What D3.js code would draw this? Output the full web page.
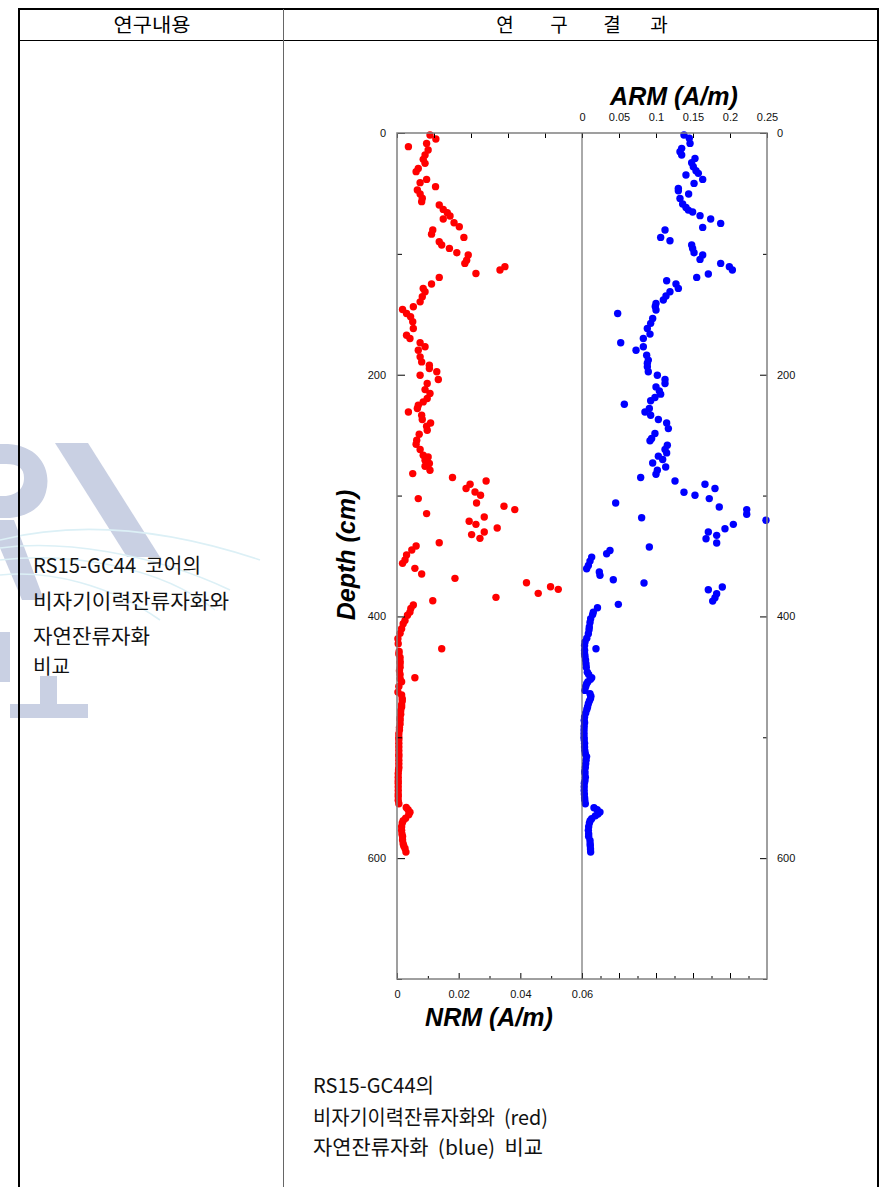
<!DOCTYPE html>
<html><head><meta charset="utf-8">
<script src="https://cdn.jsdelivr.net/npm/d3@7"></script>
<style>body{margin:0;background:#fff}svg{display:block}text{white-space:pre}</style>
</head><body><svg id="c" width="881" height="1187"></svg>
<script>
// ---------- DATA ----------
const nrmPoints = [[1.7,.0107],[5,.0126],[8.6,.0096],[11.3,.0037],[14.1,.0101],[18.2,.0091],[21.8,.0085],[25.1,.0091],[29.3,.0069],[32,.0062],[38.4,.0096],[41.1,.0075],[44.4,.0125],[47.2,.0066],[50.5,.0075],[54,.0082],[56.8,.008],[59.6,.0137],[63.2,.015],[66,.0163],[68.7,.0172],[71.2,.015],[74.3,.0185],[77.6,.0202],[80.3,.0116],[83.7,.0112],[86.4,.0217],[90,.0137],[92.7,.0145],[95.5,.017],[99.1,.0194],[101,.0231],[105.2,.0226],[107.9,.022],[110.6,.035],[113.4,.0334],[116.2,.0256],[119.5,.0137],[125,.0112],[128.6,.0085],[131.4,.0091],[135.5,.0082],[139.7,.0075],[143.8,.0053],[146,.0018],[149.3,.0031],[152.1,.0044],[156.2,.0051],[161.7,.0053],[167.3,.0031],[170,.0042],[173.6,.0075],[176.9,.0091],[179.7,.0069],[185.2,.0075],[189.4,.008],[192.1,.0105],[194.9,.0105],[197.6,.0129],[200.4,.0075],[204,.0134],[207.3,.0098],[212.3,.0091],[215.6,.0107],[219.7,.0098],[222.5,.0085],[225.2,.0069],[228,.0066],[230.8,.0037],[233.5,.008],[237.1,.0082],[239.9,.0109],[242.6,.0096],[245.9,.0098],[249.3,.0072],[254.2,.0064],[257.5,.0062],[261.9,.0075],[266.6,.0085],[268,.0101],[270.8,.0091],[273.5,.0105],[275.7,.0091],[279.1,.0107],[281.8,.0051],[285.1,.018],[287.9,.0289],[290.6,.0237],[294.2,.0224],[297,.0253],[299.7,.0271],[302.5,.0069],[306.1,.0258],[308.8,.0347],[311.6,.0382],[314.9,.0096],[317.7,.0283],[321.3,.0234],[323.8,.0256],[326.8,.0325],[330.1,.0283],[332.3,.0242],[335.4,.0269],[339,.0137],[341.7,.0062],[345,.0048],[349.2,.0031],[353.3,.0026],[356.1,.0018],[360.2,.0058],[364.9,.008],[368.5,.0188],[372.1,.042],[375.4,.0498],[377.6,.0523],[380.9,.0458],[384.2,.0321],[387,.0116],[390.5,.0053],[393.3,.0045],[396.4,.0042],[399,.0034],[403.3,.0026],[406,.002],[410.2,.0015],[414,.001],[418.5,.0003],[422.6,.0004],[426.8,.0145],[429,.0007],[431,.0006],[434,.001],[437,.001],[439,.001],[442,.001],[445,.0008],[448,.001],[450.8,.0058],[451.5,.001],[454,.0015],[458,.0006],[462.6,.0003],[465,.0015],[468,.0017],[470,.0017],[473,.0015],[475,.0015],[478,.0012],[481,.0012],[484,.001],[486,.001],[489,.001],[492,.0008],[494,.0008],[497,.0006],[500,.0006],[502,.0006],[505,.0006],[508,.0006],[511,.0006],[514,.0006],[516,.0006],[519,.0006],[522,.0006],[525,.0006],[527,.0005],[530,.0004],[533,.0004],[536,.0004],[538,.0004],[541,.0004],[544,.0004],[547,.0004],[549,.0004],[552,.0004],[555,.0006],[558,.003],[560,.0036],[562,.0042],[564,.0038],[567,.0028],[569,.002],[571,.0017],[574,.0015],[577,.0015],[580,.0016],[582,.0018],[585,.0018],[588,.002],[590,.0022],[592,.0026],[595,.0029]];

const armPoints = [[1.7,.1378],[4.4,.145],[8.6,.146],[12.7,.1347],[15.5,.1324],[18.2,.1347],[21,.1527],[24.6,.1482],[27.9,.1504],[31.2,.154],[33.4,.1572],[34.8,.1405],[38.4,.1631],[41.7,.1514],[45.8,.1302],[47.8,.1302],[50.5,.1441],[54.1,.1324],[58.8,.136],[61.6,.1405],[63.8,.1437],[65.4,.1495],[68.4,.1595],[71.2,.1739],[74.8,.1874],[78.1,.1631],[80.3,.1122],[86.4,.1063],[89.2,.1189],[92.7,.1482],[95.5,.1495],[99.1,.1514],[101,.1631],[104.6,.1595],[107.9,.1874],[110.6,.1991],[113.4,.2032],[116.7,.1707],[119.5,.155],[122.2,.1144],[125,.127],[128.6,.1302],[131.4,.1189],[134.9,.1135],[138.2,.1099],[141,.1],[143.5,.099],[146.5,.1],[149.3,.0482],[153.4,.0955],[157.5,.0928],[161.7,.0883],[166.4,.0919],[170,.0829],[173.6,.0523],[176.9,.0829],[179.7,.073],[183.8,.0874],[187.9,.0896],[190.5,.0883],[193.5,.0883],[197.6,.0896],[200.4,.1018],[204,.1122],[207.3,.1122],[210.1,.1],[213.4,.1045],[216.1,.1063],[218.9,.0986],[221.6,.0928],[224.4,.0572],[228,.091],[230.8,.0851],[233.5,.0928],[237.1,.1032],[239.9,.1144],[244.6,.1167],[248.7,.0986],[252.8,.0941],[254.7,.0919],[258.3,.1153],[261.9,.1122],[264.7,.1144],[267.4,.1032],[270.2,.109],[273,.0955],[276.3,.1131],[279.1,.1018],[282.4,.1],[285.1,.0793],[287.9,.1257],[290.6,.1662],[294.2,.1797],[297.3,.1378],[299.7,.1527],[302.5,.172],[306.1,.0455],[309.4,.1855],[311.6,.2226],[315.5,.2226],[318.3,.0806],[320.4,.2486],[323.8,.2045],[327.4,.1932],[330.1,.1707],[332.9,.182],[335.7,.1676],[339.2,.182],[342.6,.091],[345.4,.0378],[348.1,.0333],[350.9,.0131],[354.2,.0108],[357.8,.0086],[360.5,.0063],[363.3,.0234],[366,.0243],[369.6,.0423],[372.4,.0838],[375.7,.1896],[377.9,.1707],[381.2,.182],[384.5,.1797],[387.3,.1766],[390,.0491],[392.8,.0209],[396.4,.0153],[398.5,.0144],[401.9,.0117],[405,.0108],[408.8,.0099],[411,.0095],[414.3,.0086],[418,.0065],[421.2,.0041],[424,.0035],[426.8,.0189],[428,.0035],[430.9,.0035],[433,.004],[436,.0048],[439.2,.0054],[442,.0058],[446.1,.0072],[448,.009],[450.8,.0131],[452,.0115],[454,.008],[455.7,.0063],[458,.005],[461.2,.004],[464,.0108],[466,.012],[468,.0115],[470,.01],[472.2,.0086],[475,.0075],[477,.0065],[480,.005],[483.2,.0035],[486,.003],[488,.0035],[491,.003],[494,.0028],[497,.0028],[500,.0028],[502,.003],[505,.0035],[508,.0035],[511,.0038],[513.6,.0045],[516,.0062],[519,.0055],[522,.005],[525,.0045],[528,.0038],[530,.004],[533,.0045],[536,.004],[538,.0032],[541,.003],[544,.003],[547,.0032],[550,.0035],[552,.0038],[555,.0045],[558.3,.0162],[560,.0205],[561.9,.0243],[563.5,.0215],[565,.018],[567.4,.0131],[569,.011],[571,.01],[574,.009],[577,.0086],[580,.009],[582,.009],[585.3,.0108],[588,.011],[590,.0112],[592.5,.0115],[594.9,.0117]];

const depthMajor = [0,200,400,600];
const depthMinor = [100,300,500,700];
const nrmMajor = [0,0.02,0.04,0.06];
const nrmMinor = [0.01,0.03,0.05];
const nrmTickLabels = ["0","0.02","0.04","0.06"];
const armMajor = [0,0.05,0.1,0.15,0.2,0.25];
const armMinor = [0.025,0.075,0.125,0.175,0.225];
const armTickLabels = ["0","0.05","0.1","0.15","0.2","0.25"];
const topTickValues = [-0.25,-0.2,-0.15,-0.1,-0.05,0,0.05,0.1,0.15,0.2,0.25];

const headerLeft = "연구내용";
const headerRight = ["연","구","결","과"];
const leftLines = ["RS15-GC44  코어의","비자기이력잔류자화와","자연잔류자화","비교"];
const captionLines = ["RS15-GC44의","비자기이력잔류자화와  (red)","자연잔류자화  (blue)  비교"];

// ---------- LAYOUT ----------
const leftLayout = {x:33, ys:[573,609,644,674], widths:[168,196,117,37], size:20};
const capLayout = {x:313, ys:[1093,1125,1155], widths:[121,235,230], size:20.5};

// ---------- DRAW ----------
const svg = d3.select("#c");
svg.append("rect").attr("width",881).attr("height",1187).attr("fill","#fff");

// watermark
const wm = svg.append("g").attr("fill","#c9d0e3").attr("stroke","none");
wm.append("path").attr("d","M0,444 L8,444 C40,446 52,470 46,492 C42,508 28,516 10,518 L0,518 L0,496 L6,496 C20,494 24,486 24,478 C24,468 18,464 6,464 L0,464 Z");
wm.append("path").attr("d","M0,520 L14,520 L44,600 L22,600 L0,548 Z");
wm.append("path").attr("d","M55,443 L88,443 L160,557 L127,557 Z");
wm.append("rect").attr("x",0).attr("y",632).attr("width",10).attr("height",50);
wm.append("rect").attr("x",40).attr("y",676).attr("width",17).attr("height",32);
wm.append("rect").attr("x",10).attr("y",704).attr("width",78).attr("height",14);
const sw = svg.append("g").attr("fill","none").attr("stroke","#dcf0f6").attr("stroke-width",1.6);
sw.append("path").attr("d","M0,548 C60,540 150,552 230,590");
sw.append("path").attr("d","M0,560 C70,552 160,566 215,610");
sw.append("path").attr("d","M0,575 C50,570 110,585 160,620");
sw.append("path").attr("d","M0,540 C80,520 170,530 260,560");

// table
const tb = svg.append("g");
tb.append("line").attr("x1",19).attr("x2",879).attr("y1",9).attr("y2",9).attr("stroke","#000").attr("stroke-width",2);
tb.append("line").attr("x1",19).attr("x2",19).attr("y1",8).attr("y2",1187).attr("stroke","#000").attr("stroke-width",2);
tb.append("line").attr("x1",878).attr("x2",878).attr("y1",8).attr("y2",1187).attr("stroke","#000").attr("stroke-width",2);
tb.append("line").attr("x1",19).attr("x2",879).attr("y1",40.5).attr("y2",40.5).attr("stroke","#000").attr("stroke-width",1);
tb.append("line").attr("x1",283.5).attr("x2",283.5).attr("y1",9).attr("y2",1187).attr("stroke","#666").attr("stroke-width",1);

const kfont = "'Noto Sans CJK KR','Noto Sans',sans-serif";
svg.append("text").attr("x",152).attr("y",32).attr("text-anchor","middle").attr("font-family",kfont).attr("font-size",19)
  .attr("textLength",77).attr("lengthAdjust","spacingAndGlyphs").text(headerLeft);
const hx = [505,559,612,659];
headerRight.forEach((t,i)=>svg.append("text").attr("x",hx[i]).attr("y",32).attr("text-anchor","middle").attr("font-family",kfont).attr("font-size",19).text(t));

function fitText(x,yy,str,size,w){
  svg.append("text").attr("x",x).attr("y",yy).attr("font-family",kfont).attr("font-size",size).attr("fill","#111")
    .attr("textLength",w).attr("lengthAdjust","spacingAndGlyphs").text(str);
}
leftLines.forEach((t,i)=>fitText(leftLayout.x,leftLayout.ys[i],t,leftLayout.size,leftLayout.widths[i]));
captionLines.forEach((t,i)=>fitText(capLayout.x,capLayout.ys[i],t,capLayout.size,capLayout.widths[i]));

// chart
const L=397, M=582, R=767, T=133, B=979;
const y = d3.scaleLinear().domain([0,700]).range([T,B]);
const xN = d3.scaleLinear().domain([0,0.06]).range([L,M]);
const xA = d3.scaleLinear().domain([0,0.25]).range([M,R]);
const xTop = d3.scaleLinear().domain([-0.25,0.25]).range([L,R]);

const lfont = "'Liberation Sans',Arial,sans-serif";
function styleAxis(g){
  g.select(".domain").remove();
  g.selectAll(".tick line").attr("stroke","#000");
  g.selectAll("text").attr("font-family",lfont).attr("font-size",11).attr("fill","#111");
}

// points
svg.append("g").selectAll("circle").data(nrmPoints).join("circle")
  .attr("cx",d=>xN(d[1])).attr("cy",d=>y(d[0])).attr("r",3.7).attr("fill","#ff0000");
svg.append("g").selectAll("circle").data(armPoints).join("circle")
  .attr("cx",d=>xA(d[1])).attr("cy",d=>y(d[0])).attr("r",3.7).attr("fill","#0000ff");

// left axis
svg.append("g").attr("transform",`translate(${L},0)`)
  .call(d3.axisLeft(y).tickValues(depthMajor).tickSize(-8).tickPadding(11).tickFormat(d3.format("d"))).call(styleAxis);
svg.append("g").attr("transform",`translate(${L},0)`)
  .call(d3.axisLeft(y).tickValues(depthMinor).tickSize(-5).tickFormat("")).call(styleAxis);
// right axis
svg.append("g").attr("transform",`translate(${R},0)`)
  .call(d3.axisRight(y).tickValues(depthMajor).tickSize(-7).tickPadding(10).tickFormat(d3.format("d"))).call(styleAxis);
svg.append("g").attr("transform",`translate(${R},0)`)
  .call(d3.axisRight(y).tickValues(depthMinor).tickSize(-4).tickFormat("")).call(styleAxis);
// top axis
svg.append("g").attr("transform",`translate(0,${T})`)
  .call(d3.axisTop(xTop).tickValues(topTickValues).tickSize(-5).tickPadding(12)
    .tickFormat(d=>{const i=armMajor.findIndex(v=>Math.abs(v-d)<1e-9);return i>=0?armTickLabels[i]:"";})).call(styleAxis);
// bottom NRM axis
svg.append("g").attr("transform",`translate(0,${B})`)
  .call(d3.axisBottom(xN).tickValues(nrmMajor).tickSize(-6).tickPadding(11)
    .tickFormat((d,i)=>nrmTickLabels[i])).call(styleAxis);
svg.append("g").attr("transform",`translate(0,${B})`)
  .call(d3.axisBottom(xN).tickValues(nrmMinor).tickSize(-3).tickFormat("")).call(styleAxis);
// bottom ARM ticks
svg.append("g").attr("transform",`translate(0,${B})`)
  .call(d3.axisBottom(xA).tickValues(armMajor.slice(1,5)).tickSize(-6).tickFormat("")).call(styleAxis);
svg.append("g").attr("transform",`translate(0,${B})`)
  .call(d3.axisBottom(xA).tickValues(armMinor).tickSize(-3).tickFormat("")).call(styleAxis);

// frame
svg.append("rect").attr("x",L).attr("y",T).attr("width",R-L).attr("height",B-T)
  .attr("fill","none").attr("stroke","#808080").attr("stroke-width",1.5);
svg.append("line").attr("x1",M).attr("x2",M).attr("y1",T).attr("y2",B).attr("stroke","#555").attr("stroke-width",1);

// titles
const tfont = "'Liberation Sans',Arial,sans-serif";
svg.append("text").attr("x",674).attr("y",105).attr("text-anchor","middle").attr("font-family",tfont)
  .attr("font-weight","bold").attr("font-style","italic").attr("font-size",25).text("ARM (A/m)");
svg.append("text").attr("x",489).attr("y",1026).attr("text-anchor","middle").attr("font-family",tfont)
  .attr("font-weight","bold").attr("font-style","italic").attr("font-size",25).text("NRM (A/m)");
svg.append("text").attr("transform","translate(355,555) rotate(-90)").attr("text-anchor","middle").attr("font-family",tfont)
  .attr("font-weight","bold").attr("font-style","italic").attr("font-size",25).text("Depth (cm)");
</script></body></html>
